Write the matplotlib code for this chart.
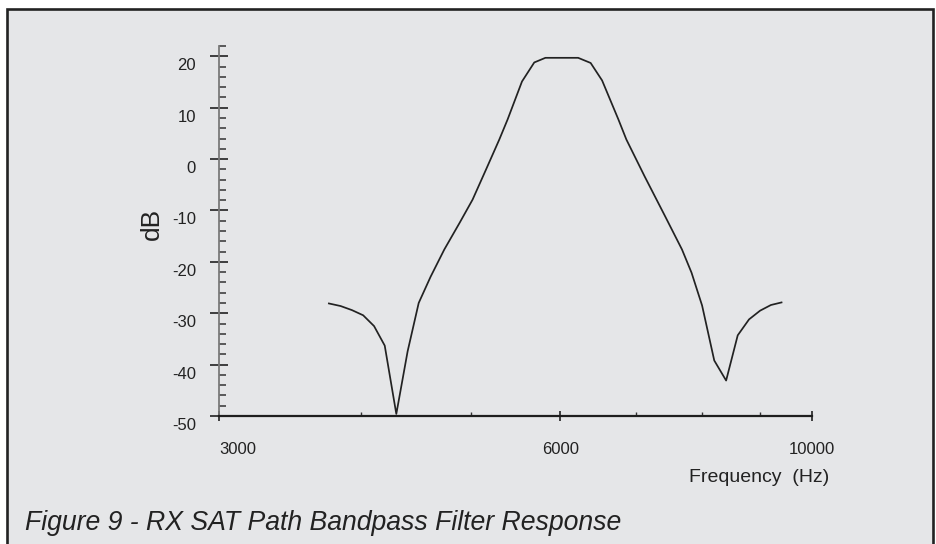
import matplotlib
matplotlib.use("Agg")
from matplotlib import pyplot as plt
from matplotlib.patches import Rectangle
from matplotlib.transforms import ScaledTranslation

# данные: частота (Гц) и ослабление (дБ)
freq = [3750, 3840, 3930, 4020, 4110, 4200, 4300, 4400, 4500, 4610,
        4740, 4890, 5020, 5160, 5300, 5390, 5550, 5690, 5820, 6220,
        6380, 6530, 6750, 6860, 7120, 7420, 7680, 7830, 8000, 8200,
        8400, 8600, 8800, 9000, 9200, 9400]
gain_db = [-28.1, -28.6, -29.4, -30.4, -32.5, -36.3, -49.6, -37.4, -28.0, -22.9,
           -17.6, -12.4, -7.9, -2.0, 3.8, 7.7, 15.1, 18.8, 19.7, 19.7,
           18.7, 15.3, 7.7, 3.8, -3.4, -11.1, -17.6, -22.1, -28.5, -39.2,
           -43.1, -34.3, -31.2, -29.5, -28.4, -27.9]

x_ticks = [3000, 6000, 10000]
x_minor = [4000, 5000, 7000, 8000, 9000]
y_ticks = [-50, -40, -30, -20, -10, 0, 10, 20]
y_minor = [v for v in range(-48, 23, 2) if v % 10 != 0]

W, H = 936, 544
fig = plt.figure(figsize=(W / 100, H / 100), dpi=100, facecolor="white")
plt.rcParams["font.family"] = ["Liberation Sans", "DejaVu Sans"]

# серая рамка
fig.patches.append(Rectangle((7 / W, -0.05), 926 / W, 1.05 - 9 / H,
                             transform=fig.transFigure, facecolor="#e5e6e8",
                             edgecolor="#222222", linewidth=1.9, zorder=-10))

ax = fig.add_axes([219 / W, 1 - 416 / H, (812 - 219) / W, (416 - 46) / H])
ax.set_facecolor("none")
ax.set_zorder(5)

ax.plot(freq, gain_db, color="#222222", linewidth=1.25)

ax.set_xscale("log")
ax.set_xlim(3000, 10000)
ax.set_ylim(-50, 22)

for s in ["top", "right"]:
    ax.spines[s].set_visible(False)
ax.spines["left"].set_color("#7a7a7a")
ax.spines["left"].set_linewidth(1.3)
ax.spines["bottom"].set_color("#1e1e1e")
ax.spines["bottom"].set_linewidth(1.6)

ax.set_xticks(x_ticks)
ax.set_xticklabels([str(v) for v in x_ticks])
ax.set_xticks(x_minor, minor=True)
ax.set_xticklabels([], minor=True)
ax.set_yticks(y_ticks)
ax.set_yticklabels([str(v) for v in y_ticks])
ax.set_yticks(y_minor, minor=True)

ax.tick_params(axis="y", which="major", direction="inout", length=13, width=1.2,
               color="#222222", pad=10, labelsize=12, labelcolor="#222222")
ax.tick_params(axis="y", which="minor", direction="in", length=5, width=1.1,
               color="#333333")
ax.tick_params(axis="x", which="major", direction="inout", length=7, width=1.2,
               color="#222222", pad=15, labelsize=12, labelcolor="#222222")
ax.tick_params(axis="x", which="minor", direction="in", length=3, width=1.0,
               color="#333333")

# подписи по Y чуть ниже делений, как на оригинале
shift = ScaledTranslation(0, -0.08, fig.dpi_scale_trans)
for lab in ax.get_yticklabels():
    lab.set_transform(lab.get_transform() + shift)
ax.xaxis.get_major_ticks()[0].label1.set_horizontalalignment("left")

fig.text(152 / W, 1 - 224 / H, "dB", rotation=90, ha="center", va="center",
         fontsize=19, color="#222222")
fig.text(689 / W, 1 - 478 / H, "Frequency  (Hz)", ha="left", va="center",
         fontsize=14, color="#222222")
fig.text(25 / W, 1 - 523 / H, "Figure 9 - RX SAT Path Bandpass Filter Response",
         ha="left", va="center", fontsize=19.2, style="italic", color="#222222")

fig.savefig("out.png", dpi=100, facecolor="white")
